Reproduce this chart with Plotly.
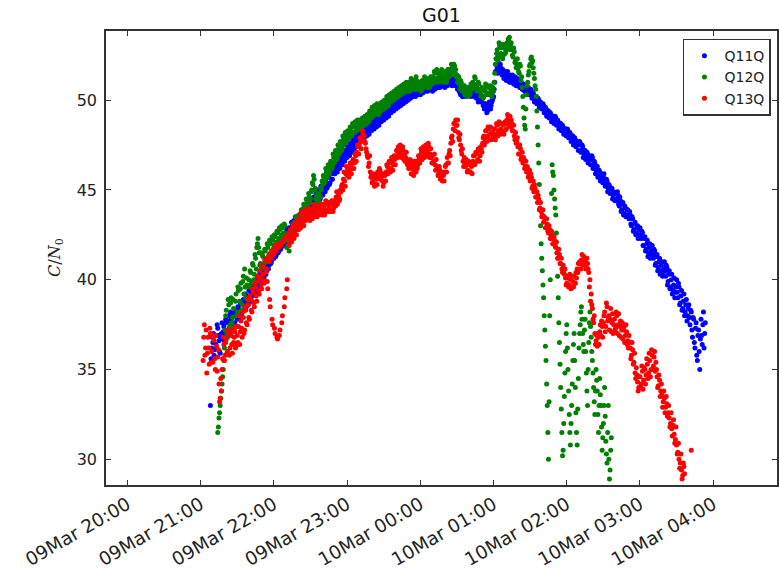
import numpy as np
import pandas as pd
import plotly.graph_objects as go

# ---------------- data (C/N0 in dB-Hz) ----------------
# readings on the whole minute and on the half minute, starting at
# the given minute after 09Mar 20:00
base_time = "2016-03-09 20:00"
series_names = ["Q11Q", "Q12Q", "Q13Q"]
series_colors = ["#0000ff", "#008000", "#ff0000"]

q11q_start = 68
q11q = [
    33.0, 36.2,
    36.5, 35.8, 36.9, 36.2, 37.3, 36.6, 35.9, 37.0, 36.8, 37.4,
    37.0, 37.6, 36.9, 38.0, 37.4, 37.8, 37.2, 38.1, 37.6, 38.2,
    37.8, 38.4, 38.0, 38.6, 38.2, 38.9, 38.4, 38.7, 39.1, 38.6,
    39.0, 39.3, 38.8, 39.6, 39.2, 39.8, 39.4, 40.0, 39.7, 40.2,
    40.0, 40.4, 40.1, 40.7, 40.5, 41.0, 40.8, 41.3, 41.0, 41.5,
    41.2, 41.7, 41.4, 41.9, 41.6, 42.1, 41.8, 42.3, 41.9, 42.2,
    42.3, 42.6, 42.2, 42.8, 42.5, 43.0, 42.7, 43.1, 42.9, 43.3,
    43.0, 43.4, 43.1, 43.6, 43.3, 43.8, 43.5, 43.9, 43.6, 44.0,
    43.8, 44.2, 43.9, 44.4, 44.1, 44.6, 44.3, 44.8, 44.5, 45.0,
    44.7, 45.1, 44.9, 45.4, 45.2, 45.7, 45.4, 45.9, 45.6, 46.1,
    45.9, 46.3, 46.0, 46.5, 46.2, 46.7, 46.4, 46.9, 46.6, 47.0,
    46.8, 47.2, 46.9, 47.4, 47.1, 47.6, 47.3, 47.8, 47.5, 47.9,
    47.7, 48.0, 47.8, 48.2, 47.9, 48.3, 48.0, 48.4, 48.1, 48.5,
    48.3, 48.6, 48.4, 48.8, 48.5, 48.9, 48.6, 49.0, 48.8, 49.1,
    48.9, 49.2, 49.0, 49.4, 49.1, 49.5, 49.3, 49.6, 49.4, 49.7,
    49.5, 49.8, 49.6, 49.9, 49.7, 50.1, 49.8, 50.2, 49.9, 50.2,
    50.0, 50.3, 50.1, 50.4, 50.2, 50.5, 50.2, 50.4, 50.3, 50.6,
    50.3, 50.6, 50.4, 50.7, 50.5, 50.8, 50.5, 50.7, 50.6, 50.8,
    50.5, 50.8, 50.6, 50.9, 50.7, 51.0, 50.7, 50.9, 50.8, 51.0,
    50.7, 51.0, 50.8, 51.1, 50.9, 51.0, 50.8, 51.1, 50.9, 50.8,
    50.8, 50.6, 50.5, 50.3, 50.4, 50.2, 50.4, 50.5, 50.3, 50.5,
    50.4, 50.6, 50.3, 50.5, 50.2, 50.4, 50.1, 50.3, 50.0, 50.2,
    49.9, 50.1, 49.8, 49.6, 49.7, 49.4, 49.6, 49.8, 49.7, 50.0,
    50.2, 51.0, 52.0, 51.8, 52.1, 51.6, 51.8, 51.4, 51.6, 51.3,
    51.5, 51.2, 51.4, 51.0, 51.3, 51.1, 51.2, 50.9, 51.1, 51.0,
    50.8, 51.0, 50.7, 50.9, 50.6, 50.8, 50.5, 50.7, 50.4, 50.6,
    50.4, 50.5, 50.2, 50.3, 50.0, 50.2, 49.9, 50.0, 49.7, 49.8,
    49.6, 49.7, 49.4, 49.5, 49.2, 49.4, 49.1, 49.2, 48.9, 49.0,
    48.9, 49.0, 48.7, 48.8, 48.5, 48.7, 48.4, 48.5, 48.2, 48.4,
    48.2, 48.3, 48.0, 48.1, 47.8, 48.0, 47.7, 47.8, 47.5, 47.6,
    47.5, 47.6, 47.2, 47.4, 47.0, 47.2, 46.9, 47.0, 46.7, 46.8,
    46.7, 46.8, 46.4, 46.5, 46.1, 46.3, 45.9, 46.0, 45.7, 45.8,
    45.7, 45.6, 45.3, 45.5, 45.1, 45.2, 44.9, 45.1, 44.7, 44.8,
    44.8, 44.4, 44.7, 44.1, 44.4, 43.9, 44.3, 43.7, 44.0, 43.6,
    43.9, 43.4, 43.6, 43.0, 43.4, 42.8, 43.2, 42.6, 43.0, 42.5,
    42.9, 42.3, 42.6, 41.9, 42.4, 41.7, 42.2, 41.5, 42.0, 41.4,
    41.9, 41.2, 41.6, 40.9, 41.4, 40.7, 41.2, 40.5, 41.0, 40.4,
    41.0, 40.2, 40.7, 39.9, 40.5, 39.6, 40.3, 39.4, 40.1, 39.3,
    40.0, 39.0, 39.6, 38.7, 39.4, 38.4, 39.2, 38.2, 38.9, 38.0,
    38.6, 37.5, 38.2, 36.8, 37.8, 36.2, 37.6, 35.5, 37.2, 35.0,
    37.8, 36.4, 38.2, 37.0,
]
q11q_half = [
    35.6, 36.8,
    37.0, 36.1, 36.4, 37.5, 36.9, 36.0, 36.7, 37.6, 37.1, 36.6,
    37.8, 37.1, 37.7, 37.3, 38.2, 37.5, 38.0, 37.4, 38.3, 37.9,
    38.5, 37.9, 38.7, 38.1, 38.8, 38.3, 39.2, 38.5, 38.9, 39.4,
    38.8, 39.7, 39.1, 39.4, 39.9, 39.3, 40.1, 39.6, 40.4, 39.9,
    40.6, 40.2, 40.9, 40.3, 41.2, 40.6, 41.4, 40.9, 41.6, 41.2,
    41.9, 41.3, 42.0, 41.5, 42.3, 41.7, 42.4, 42.0, 42.5, 42.1,
    42.8, 42.4, 42.9, 42.6, 43.2, 42.8, 43.3, 42.9, 43.5, 43.1,
    43.6, 43.2, 43.8, 43.4, 44.0, 43.6, 44.1, 43.7, 44.3, 43.9,
    44.4, 44.0, 44.6, 44.2, 44.8, 44.4, 45.0, 44.6, 45.2, 44.8,
    45.3, 44.9, 45.6, 45.1, 45.8, 45.3, 46.0, 45.6, 46.2, 45.9,
    46.5, 46.1, 46.7, 46.3, 46.9, 46.5, 47.1, 46.7, 47.2, 46.9,
    47.4, 47.0, 47.6, 47.2, 47.8, 47.4, 48.0, 47.6, 48.1, 47.8,
    48.2, 47.8, 48.4, 48.0, 48.5, 48.2, 48.6, 48.3, 48.7, 48.4,
    48.8, 48.5, 49.0, 48.6, 49.1, 48.8, 49.2, 48.9, 49.3, 49.0,
    49.4, 49.1, 49.6, 49.2, 49.7, 49.4, 49.8, 49.5, 49.9, 49.6,
    50.0, 49.7, 50.1, 49.8, 50.3, 49.9, 50.4, 50.0, 50.4, 50.1,
    50.5, 50.2, 50.6, 50.3, 50.7, 50.4, 50.6, 50.5, 50.8, 50.4,
    50.8, 50.5, 50.9, 50.6, 50.9, 50.7, 51.0, 50.6, 50.9, 50.7,
    51.0, 50.7, 51.1, 50.8, 51.2, 50.9, 51.1, 50.8, 51.2, 50.9,
    51.1, 50.8, 51.2, 50.9, 51.2, 51.0, 51.2, 50.9, 51.1, 50.9,
    50.6, 50.9, 50.4, 50.6, 50.2, 50.5, 50.6, 50.2, 50.6, 50.3,
    50.7, 50.2, 50.6, 50.3, 50.5, 50.2, 50.4, 49.9, 50.3, 50.0,
    50.2, 49.7, 49.5, 49.8, 49.3, 49.7, 49.9, 49.5, 49.9, 50.1,
    50.6, 51.6, 52.3, 51.5, 51.9, 52.0, 51.5, 51.7, 51.2, 51.6,
    51.1, 51.6, 51.1, 51.4, 51.0, 51.4, 50.9, 51.3, 50.8, 51.2,
    51.1, 50.7, 51.0, 50.6, 50.9, 50.5, 50.8, 50.4, 50.7, 50.3,
    50.6, 50.1, 50.4, 49.9, 50.2, 49.8, 50.1, 49.6, 49.9, 49.5,
    49.8, 49.3, 49.6, 49.1, 49.4, 49.0, 49.3, 48.8, 49.1, 48.7,
    49.1, 48.6, 48.9, 48.4, 48.7, 48.3, 48.6, 48.1, 48.4, 48.0,
    48.4, 47.9, 48.2, 47.7, 48.0, 47.5, 47.9, 47.4, 47.7, 47.2,
    47.7, 47.1, 47.5, 46.8, 47.2, 46.7, 47.1, 46.5, 46.9, 46.4,
    46.9, 46.2, 46.6, 45.9, 46.3, 45.7, 46.1, 45.5, 45.9, 45.4,
    45.9, 45.2, 45.6, 44.9, 45.3, 44.8, 45.0, 44.5, 44.9, 44.4,
    44.5, 44.9, 44.2, 44.6, 43.8, 44.2, 43.6, 44.1, 43.5, 43.9,
    43.5, 43.8, 43.1, 43.5, 42.7, 43.1, 42.5, 42.9, 42.3, 42.8,
    42.4, 42.7, 41.9, 42.3, 41.6, 42.0, 41.3, 41.8, 41.2, 41.6,
    41.4, 41.7, 40.8, 41.3, 40.5, 41.0, 40.3, 40.8, 40.2, 40.6,
    40.5, 40.8, 39.7, 40.3, 39.5, 40.0, 39.2, 39.7, 39.0, 39.6,
    39.3, 39.8, 38.6, 39.1, 38.3, 38.8, 38.0, 38.6, 37.7, 38.4,
    37.9, 38.3, 37.2, 37.9, 36.5, 37.3, 35.8, 36.9, 36.0, 36.7,
    36.9, 37.5, 36.2, 37.6,
]

q12q_start = 74
q12q = [
    31.5, 32.3, 33.0, 33.8, 34.6, 35.5,
    37.2, 38.3, 36.8, 38.6, 37.5, 39.0, 37.9, 38.4, 37.4, 39.2,
    38.2, 39.4, 38.8, 39.8, 38.6, 40.2, 40.6, 39.0, 39.7, 38.9,
    39.6, 40.4, 39.9, 40.8, 40.3, 41.2, 41.8, 42.3, 41.5, 40.9,
    40.7, 41.3, 40.9, 41.6, 41.1, 41.8, 41.4, 42.0, 41.6, 42.2,
    41.9, 42.4, 42.1, 42.6, 42.3, 42.8, 42.5, 42.9, 42.6, 43.0,
    42.4, 42.2, 41.9, 42.1, 42.5, 42.8, 43.0, 43.2, 42.9, 43.3,
    43.1, 43.5, 43.3, 43.8, 43.6, 44.1, 43.9, 44.3, 44.2, 44.6,
    44.5, 45.0, 45.3, 45.6, 45.1, 44.7, 44.4, 44.1, 44.6, 45.0,
    45.3, 45.7, 45.5, 46.0, 45.8, 46.3, 46.1, 46.5, 46.3, 46.8,
    46.6, 47.0, 46.8, 47.3, 47.1, 47.5, 47.3, 47.8, 47.6, 48.0,
    47.8, 48.1, 47.9, 48.3, 48.1, 48.5, 48.2, 48.6, 48.3, 48.7,
    48.4, 48.7, 48.5, 48.8, 48.6, 48.9, 48.7, 49.0, 48.8, 49.2,
    49.0, 49.4, 49.2, 49.6, 49.3, 49.5, 49.2, 49.6, 49.4, 49.7,
    49.5, 49.8, 49.6, 50.0, 49.7, 50.1, 49.9, 50.2, 50.0, 50.3,
    50.1, 50.4, 50.2, 50.5, 50.3, 50.6, 50.4, 50.7, 50.5, 50.8,
    50.5, 50.8, 50.6, 51.0, 50.7, 50.9, 50.6, 51.1, 50.8, 50.6,
    50.9, 50.6, 51.0, 50.8, 51.2, 50.9, 50.7, 51.0, 50.8, 51.1,
    51.3, 51.0, 51.5, 51.2, 51.6, 51.3, 51.0, 51.4, 51.6, 51.3,
    51.1, 51.4, 51.2, 51.5, 51.7, 51.4, 51.8, 51.6, 51.9, 51.7,
    51.4, 51.2, 50.9, 51.1, 50.7, 50.5, 50.8, 50.4, 50.6, 50.3,
    50.6, 50.4, 50.8, 51.0, 50.9, 51.2, 50.8, 50.6, 50.9, 50.5,
    50.3, 50.6, 50.2, 50.5, 50.8, 50.4, 50.7, 50.3, 50.6, 50.4,
    50.5, 51.5, 52.3, 52.8, 52.4, 53.0, 52.6, 53.1, 52.5, 52.9,
    52.7, 53.2, 53.4, 53.5, 53.0, 52.8, 52.4, 52.7, 52.2, 52.0,
    51.8, 51.5, 51.9, 51.3, 50.2, 49.0, 48.4, 50.3, 51.0, 51.6,
    52.0, 52.4, 52.2, 51.5, 50.8, 50.2,
    48.5, 46.5, 44.3, 42.0, 40.5, 39.0, 37.2, 35.5, 33.0, 30.0,
    38.0, 42.5, 46.4, 45.8, 44.5, 43.6, 41.5, 39.0, 36.5, 34.0,
    31.5, 30.5, 33.5, 36.0, 37.5, 35.0, 32.5, 30.8, 33.0, 35.5,
    37.0, 34.0, 31.5, 32.8, 36.2, 37.5, 38.5, 37.0, 36.0, 37.8,
    34.8, 33.0, 36.5, 38.2, 36.8, 35.5, 34.0, 32.5, 35.0, 33.8,
    31.5, 34.5, 33.0, 30.5, 32.0, 34.0, 31.0, 29.8, 33.0, 28.9,
    30.5,
]
q12q_half = [
    31.8, 32.6, 33.4, 34.2, 35.0, 36.2,
    38.0, 37.0, 38.9, 37.3, 38.7, 37.6, 38.9, 37.2, 38.8, 38.0,
    39.6, 38.0, 39.5, 38.3, 39.9, 39.2, 39.6, 40.1, 38.6, 40.0,
    40.5, 39.8, 40.9, 40.0, 41.4, 40.6, 42.0, 41.8, 40.8, 41.5,
    41.4, 40.8, 41.7, 41.0, 42.0, 41.2, 42.2, 41.5, 42.4, 41.7,
    42.5, 41.8, 42.7, 42.0, 42.9, 42.2, 43.0, 42.4, 43.1, 42.5,
    41.8, 42.6, 41.6, 42.4, 42.2, 43.1, 42.7, 43.5, 43.0, 42.8,
    43.6, 43.0, 43.9, 43.4, 44.2, 43.7, 44.5, 43.9, 44.8, 44.3,
    44.9, 45.4, 45.8, 45.0, 44.5, 44.2, 44.8, 44.3, 45.1, 45.5,
    45.8, 45.4, 46.2, 45.7, 46.4, 45.9, 46.6, 46.2, 47.0, 46.5,
    47.2, 46.7, 47.5, 47.0, 47.7, 47.2, 48.0, 47.5, 48.2, 47.7,
    48.3, 47.9, 48.5, 48.0, 48.7, 48.2, 48.8, 48.4, 48.9, 48.5,
    48.9, 48.5, 49.0, 48.6, 49.1, 48.7, 49.2, 48.8, 49.4, 49.0,
    49.6, 49.1, 49.7, 49.3, 49.8, 49.2, 49.8, 49.4, 49.9, 49.5,
    50.0, 49.6, 50.2, 49.8, 50.3, 49.9, 50.4, 50.0, 50.5, 50.1,
    50.6, 50.2, 50.7, 50.3, 50.8, 50.4, 50.9, 50.5, 51.0, 50.6,
    51.0, 50.5, 51.2, 50.6, 51.1, 50.7, 51.3, 50.6, 50.9, 51.0,
    50.5, 51.1, 50.7, 51.3, 50.8, 51.0, 51.2, 50.7, 51.3, 50.9,
    51.1, 51.6, 51.0, 51.7, 51.1, 51.5, 51.3, 51.7, 51.2, 51.0,
    51.6, 51.0, 51.7, 51.3, 51.5, 52.0, 51.5, 52.0, 51.5, 51.3,
    51.0, 51.3, 50.6, 51.0, 50.5, 50.8, 50.3, 50.7, 50.2, 50.7,
    50.3, 50.9, 50.6, 50.7, 51.3, 50.7, 50.5, 51.0, 50.6, 50.2,
    50.7, 50.1, 50.6, 50.9, 50.3, 50.8, 50.4, 50.8, 50.2, 50.7,
    51.0, 52.0, 52.6, 52.2, 53.2, 52.4, 52.9, 52.3, 53.1, 52.6,
    53.1, 52.9, 53.3, 52.8, 53.2, 52.5, 52.9, 52.1, 51.8, 52.3,
    51.6, 52.0, 51.1, 50.7, 49.6, 48.6, 49.5, 50.8, 51.4, 51.9,
    52.3, 52.1, 51.8, 51.2, 50.6, 49.4,
    47.5, 45.3, 43.0, 41.2, 39.7, 38.0, 36.3, 34.2, 31.5, 33.2,
    40.0, 44.8, 46.0, 45.0, 44.0, 42.6, 40.2, 37.6, 35.3, 32.8,
    30.2, 32.0, 34.8, 37.0, 36.2, 33.8, 31.5, 32.0, 34.2, 36.4,
    35.5, 32.6, 30.8, 34.5, 37.0, 38.2, 37.8, 36.4, 37.2, 36.0,
    33.8, 35.0, 37.6, 37.4, 36.0, 34.8, 33.2, 33.8, 34.4, 32.5,
    33.0, 33.6, 31.8, 31.2, 33.0, 32.4, 30.3, 31.5, 30.0, 29.4,
    31.2,
]

q13q_start = 62
q13q = [
    35.5, 37.5, 36.2, 34.8, 36.8, 35.3, 37.0, 36.0,
    35.4, 36.6, 35.0, 36.3, 35.7, 34.2, 33.4, 33.8, 35.6, 36.4,
    35.8, 36.7, 36.0, 37.0, 36.2, 36.9, 35.9, 36.5, 37.1, 36.3,
    36.9, 37.4, 36.4, 37.7, 36.8, 37.9, 37.2, 38.3, 37.5, 38.6,
    37.8, 38.9, 38.2, 39.3, 38.5, 39.6, 38.8, 39.9, 39.2, 40.1,
    39.5, 40.3, 39.8, 40.6, 40.6, 39.5, 41.0, 38.5, 41.2, 37.5,
    41.4, 37.0, 41.6, 36.7, 41.8, 37.2, 42.0, 38.0, 42.1, 39.0,
    42.3, 40.0, 42.4, 42.2, 42.6, 42.4, 42.9, 42.6, 43.1, 42.8,
    43.0, 43.3, 42.9, 43.5, 43.2, 43.6, 43.3, 43.8, 43.4, 43.7,
    43.5, 43.9, 43.6, 44.0, 43.7, 43.9, 43.6, 44.1, 43.8, 43.9,
    43.7, 44.1, 43.9, 44.2, 43.8, 44.0, 44.3, 43.9, 44.2, 44.0,
    44.3, 44.6, 44.2, 44.7, 44.5, 44.9, 45.3, 45.6, 45.5, 45.9,
    45.8, 46.1, 46.0, 46.4, 46.2, 46.7, 46.5, 46.9, 47.1, 47.4,
    47.5, 47.7, 47.9, 48.1, 48.0, 47.6, 47.1, 46.8, 46.5, 46.0,
    45.8, 45.5, 45.7, 45.3, 45.6, 46.0, 45.8, 46.1, 45.7, 45.5,
    45.4, 45.8, 46.0, 46.3, 46.1, 46.5, 46.2, 46.6, 46.4, 46.7,
    46.9, 47.2, 47.4, 47.1, 47.3, 46.9, 47.2, 47.0, 46.8, 46.5,
    46.6, 46.3, 46.5, 46.2, 46.4, 46.1, 46.3, 46.6, 46.4, 46.7,
    46.9, 47.1, 46.8, 47.2, 47.0, 47.3, 47.1, 47.4, 47.0, 46.8,
    46.9, 46.6, 46.4, 46.7, 46.2, 45.9, 46.1, 45.7, 45.5, 45.8,
    46.0, 46.4, 46.8, 46.5, 47.2, 47.6, 48.0, 48.4, 48.7, 48.9,
    48.6, 48.2, 47.8, 47.5, 47.0, 46.6, 46.8, 46.3, 46.5, 46.1,
    46.4, 46.0, 46.3, 46.6, 46.9, 46.5, 47.0, 46.7, 47.2, 46.9,
    47.3, 47.6, 48.0, 47.8, 48.3, 48.0, 48.4, 48.1, 47.8, 48.2,
    48.0, 48.4, 48.1, 48.6, 48.3, 48.7, 48.4, 48.2, 48.6, 48.3,
    48.7, 48.9, 49.1, 48.8, 48.5, 48.7, 48.3, 48.0, 48.2, 47.7,
    47.4, 47.0, 47.3, 46.8, 46.5, 46.7, 46.3, 46.0, 46.2, 45.8,
    45.5, 45.7, 45.2, 44.9, 45.1, 44.6, 44.3, 44.5, 44.0, 43.8,
    43.6, 43.2, 43.4, 42.9, 43.1, 42.6, 42.8, 42.3, 42.5, 42.0,
    42.2, 41.8, 41.5, 41.2, 41.4, 40.9, 40.6, 40.8, 40.3, 40.1,
    39.8, 40.1, 39.7, 40.0, 39.6, 39.9, 40.2, 39.8, 40.1, 40.4,
    40.6, 40.9, 41.1, 40.8, 41.3, 41.0, 40.7, 40.9, 40.4, 40.0,
    39.2, 38.4, 37.6, 37.0, 36.6, 36.3, 36.8, 37.1, 36.9, 37.4,
    37.6, 38.2, 37.4, 38.5, 37.9, 37.2, 38.4, 37.6, 37.0, 37.8,
    37.3, 38.0, 37.5, 36.9, 37.7, 37.2, 36.7, 37.4, 36.9, 37.1,
    36.6, 36.9, 36.2, 35.8, 36.1, 35.4, 34.8, 35.1, 34.3, 34.0,
    34.6, 34.2, 34.9, 34.4, 35.0, 34.7, 35.3, 34.8, 35.5, 35.0,
    35.8, 35.2, 36.0, 35.4, 34.6, 34.1, 34.4, 33.8, 33.6, 33.2,
    33.4, 32.9, 33.1, 32.6, 32.3, 32.0, 31.7, 31.9, 31.4, 31.1,
    30.8, 30.4, 30.0, 29.8, 29.4, 29.1, 29.6,
    None, None, None, None, None, 30.5,
]
q13q_half = [
    36.8, 35.8, 37.2, 35.9, 36.2, 37.3, 35.4, 36.9,
    36.8, 35.6, 36.9, 34.9, 36.1, 33.2, 34.5, 35.0, 36.8, 35.5,
    36.5, 35.9, 37.2, 35.8, 37.1, 36.4, 37.3, 36.8, 36.2, 37.4,
    36.5, 38.0, 37.1, 37.3, 38.2, 37.0, 38.5, 37.6, 38.9, 37.9,
    39.1, 38.3, 39.5, 38.7, 39.8, 39.1, 40.2, 39.4, 40.5, 39.7,
    40.8, 40.0, 41.1, 40.4, 39.9, 41.3, 38.9, 41.5, 37.8, 41.7,
    37.3, 41.9, 36.8, 42.0, 36.9, 41.9, 37.6, 42.2, 38.5, 42.4,
    39.5, 42.5, 41.9, 42.8, 42.1, 43.0, 42.3, 43.2, 42.5, 43.3,
    42.8, 43.6, 43.1, 43.8, 43.0, 43.9, 43.5, 43.6, 44.0, 43.3,
    43.9, 43.4, 44.2, 43.5, 44.1, 43.5, 44.0, 43.7, 44.2, 43.6,
    44.2, 43.6, 44.4, 43.8, 44.3, 44.2, 43.8, 44.4, 43.8, 44.4,
    44.1, 44.9, 44.5, 44.4, 45.0, 45.2, 45.0, 46.0, 45.2, 46.3,
    46.2, 45.7, 46.5, 45.9, 46.6, 46.2, 47.0, 46.6, 47.5, 47.0,
    47.9, 47.3, 48.3, 47.7, 47.7, 47.3, 46.9, 46.3, 46.9, 45.7,
    45.4, 45.9, 45.2, 45.8, 45.3, 45.7, 46.2, 45.6, 45.9, 45.2,
    45.9, 45.5, 46.4, 45.9, 46.6, 46.0, 46.8, 46.1, 46.9, 46.4,
    47.2, 46.8, 47.0, 47.5, 46.8, 47.4, 46.7, 46.6, 47.1, 46.4,
    46.2, 46.7, 45.9, 46.6, 45.8, 46.6, 46.0, 46.2, 46.9, 46.5,
    47.3, 46.7, 47.4, 46.8, 47.5, 46.9, 47.6, 46.8, 47.3, 46.5,
    46.5, 47.0, 46.1, 46.3, 45.8, 46.3, 45.6, 46.0, 45.9, 45.5,
    46.3, 46.0, 46.5, 47.0, 46.9, 47.9, 47.7, 48.7, 48.3, 48.6,
    48.9, 47.9, 48.1, 47.2, 47.3, 46.3, 46.5, 46.7, 46.0, 46.6,
    46.0, 46.5, 45.9, 46.9, 46.4, 47.1, 46.6, 47.3, 46.6, 47.4,
    47.1, 47.9, 47.5, 48.3, 47.7, 48.5, 47.8, 48.5, 48.2, 47.9,
    48.4, 47.8, 48.7, 48.0, 48.8, 48.1, 48.7, 48.7, 48.1, 48.8,
    48.4, 49.2, 48.6, 49.1, 48.9, 48.3, 48.6, 47.8, 47.6, 47.9,
    47.0, 47.5, 46.7, 47.1, 46.8, 46.2, 46.6, 46.3, 45.7, 46.1,
    45.9, 45.1, 45.5, 45.3, 44.6, 44.9, 44.7, 43.9, 44.3, 43.5,
    43.9, 43.5, 42.9, 43.4, 42.7, 43.0, 42.3, 42.7, 42.0, 42.4,
    41.9, 42.1, 41.2, 41.7, 40.9, 41.2, 40.4, 40.5, 40.6, 39.7,
    40.2, 39.6, 40.3, 39.5, 40.2, 39.6, 39.8, 40.4, 40.6, 40.9,
    41.0, 40.6, 41.4, 41.0, 41.0, 40.6, 41.2, 40.6, 39.6, 38.8,
    38.6, 37.8, 38.0, 36.4, 36.9, 37.0, 36.4, 37.5, 37.7, 36.8,
    38.0, 37.1, 38.7, 37.7, 38.0, 37.8, 37.1, 38.1, 37.5, 37.2,
    38.2, 37.0, 38.1, 37.4, 36.8, 37.6, 37.2, 36.5, 37.5, 36.4,
    36.2, 36.5, 35.6, 36.5, 35.3, 35.9, 34.5, 34.7, 33.8, 34.6,
    34.0, 35.2, 33.9, 35.1, 34.2, 35.6, 34.5, 35.9, 34.6, 36.1,
    35.0, 35.7, 34.9, 35.0, 34.0, 34.7, 33.5, 34.2, 32.9, 33.8,
    32.6, 33.5, 32.4, 33.0, 31.8, 32.6, 31.3, 32.2, 30.9, 31.8,
    30.3, 30.9, 29.5, 30.3, 28.9, 29.8, 29.2,
]

hour_ticks = ["2016-03-09 20:00", "2016-03-09 21:00", "2016-03-09 22:00",
              "2016-03-09 23:00", "2016-03-10 00:00", "2016-03-10 01:00",
              "2016-03-10 02:00", "2016-03-10 03:00", "2016-03-10 04:00"]
y_ticks = [30, 35, 40, 45, 50]


def minute_axis(start, n):
    return pd.Timestamp(base_time) + pd.to_timedelta(start + np.arange(n), unit="min")


fig = go.Figure()
for name, color, start, vals, half in zip(
        series_names, series_colors,
        [q11q_start, q12q_start, q13q_start],
        [q11q, q12q, q13q],
        [q11q_half, q12q_half, q13q_half]):
    x = list(minute_axis(start, len(vals))) + list(minute_axis(start + 0.5, len(half)))
    y = list(vals) + list(half)
    fig.add_trace(go.Scatter(
        x=x, y=y, mode="markers", name=name,
        marker=dict(color=color, size=5, line=dict(width=0)),
    ))

axis_col = "#333333"
fig.update_layout(
    width=779, height=570,
    margin=dict(l=106, r=0, t=31, b=79),
    plot_bgcolor="white", paper_bgcolor="white",
    font=dict(family="DejaVu Sans", size=16, color="#222222"),
    title=dict(text="G01", x=0.5, xref="paper", xanchor="center",
               y=1 - 15 / 570, yref="container", yanchor="middle",
               font=dict(size=19, color="#111111")),
    showlegend=True,
    legend=dict(x=0.991, y=0.983, xanchor="right", yanchor="top",
                bordercolor=axis_col, borderwidth=1.5, bgcolor="white",
                font=dict(size=14), itemwidth=30),
)
fig.update_xaxes(
    type="date",
    range=["2016-03-09 19:42:26", "2016-03-10 04:52:16"],
    tickvals=hour_ticks, tickformat="%d%b %H:%M", tickangle=-30,
    ticks="inside", ticklen=5, tickcolor=axis_col, tickwidth=1,
    showline=True, linecolor=axis_col, linewidth=1.5, mirror="ticks",
    showgrid=False, zeroline=False, tickfont=dict(size=18.5),
)
fig.update_yaxes(
    range=[28.57, 53.85], tickvals=y_ticks,
    ticks="inside", ticklen=5, tickcolor=axis_col, tickwidth=1,
    showline=True, linecolor=axis_col, linewidth=1.5, mirror="ticks",
    showgrid=False, zeroline=False, tickfont=dict(size=16),
    ticklabelstandoff=4,
)
fig.add_annotation(
    text="<i>C</i>/<i>N</i><sub>0</sub>", xref="paper", yref="paper",
    x=0, y=0.5, xanchor="center", yanchor="middle", xshift=-51,
    showarrow=False, textangle=-90,
    font=dict(family="DejaVu Serif", size=16, color="#222222"),
)

fig.write_html("out.html")
